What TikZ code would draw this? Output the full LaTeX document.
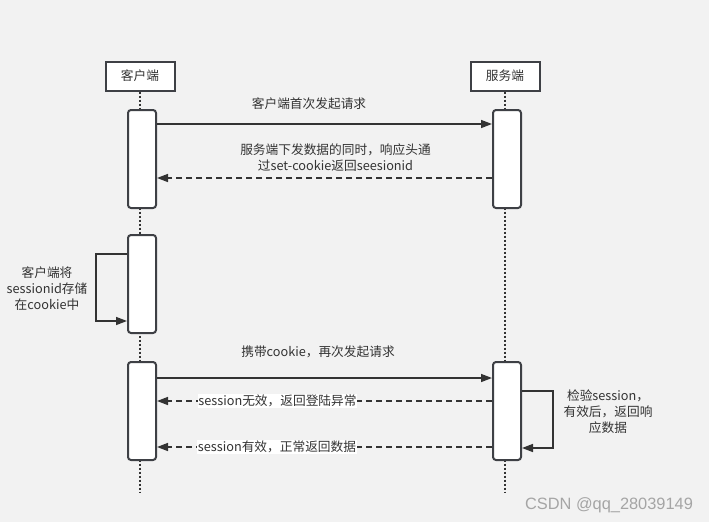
\documentclass[tikz,border=0pt]{standalone}
\usepackage{fontspec}
\setmainfont{Noto Sans CJK SC}
\newfontfamily\wmfont{Liberation Sans}
\usetikzlibrary{arrows.meta}
\definecolor{bggray}{RGB}{242,242,242}
\definecolor{ink}{RGB}{51,51,51}
\definecolor{edgegray}{RGB}{62,64,69}
\definecolor{wmgray}{RGB}{165,165,165}

\begin{document}
\begin{tikzpicture}[x=1pt,y=-1pt,
  actor/.style={draw=edgegray, line width=2pt, fill=white, minimum width=69pt, minimum height=29pt, inner sep=0pt, text=ink, font=\fontsize{12.7}{16}\selectfont},
  act/.style={draw=edgegray, line width=2pt, fill=white, rounded corners=3pt, minimum width=28pt, minimum height=98pt, inner sep=0pt},
  life/.style={draw=ink, line width=2pt, dash pattern=on 2pt off 2pt},
  call/.style={draw=ink, line width=1.5pt, -{Triangle[length=11pt,width=8pt]}},
  ret/.style={call, dash pattern=on 6pt off 4pt},
  lab/.style={text=ink, align=center, inner sep=0.6pt, font=\fontsize{12.7}{16}\selectfont}]
\def\cx{140}
\def\sx{505}

%background
\fill[bggray] (0,0) rectangle (709,522);

%actors and lifelines
\node[actor] (client) at (\cx,76) {客户端};
\node[actor] (server) at (\sx,76) {服务端};
\coordinate (cend) at (\cx,492);
\coordinate (send) at (\sx,492);
\draw[life] (client.south) -- (cend);
\draw[life] (server.south) -- (send);

%activations
\node[act] (c1) at (\cx+2,159) {};
\node[act] (c2) at (\cx+2,284) {};
\node[act] (c3) at (\cx+2,411) {};
\node[act] (s1) at (\sx+2,159) {};
\node[act] (s2) at (\sx+2,411) {};

%message heights
\coordinate (y1) at (0,124);
\coordinate (y2) at (0,178);
\coordinate (y3) at (0,378);
\coordinate (y4) at (0,401);
\coordinate (y5) at (0,447);
\coordinate (q1) at (0,254);
\coordinate (q2) at (0,321);
\coordinate (r1) at (0,391);
\coordinate (r2) at (0,448);

%first request
\draw[call] (c1.east |- y1) -- (s1.west |- y1);
\node[lab] (t1) at (309,104) {客户端首次发起请求};
\draw[ret] (s1.west |- y2) -- (c1.east |- y2);
\node[lab] (t2) at (335.5,158) {服务端下发数据的同时，响应头通\\过set-cookie返回seesionid};

%client stores the id
\draw[call] (c2.west |- q1) -- ++(-31,0) |- (c2.west |- q2);
\node[lab] (t3) at (47,289) {客户端将\\sessionid存储\\在cookie中};

%second request
\draw[call] (c3.east |- y3) -- (s2.west |- y3);
\node[lab] (t4) at (318,352) {携带cookie，再次发起请求};
\draw[ret] (s2.west |- y4) -- (c3.east |- y4);
\node[lab, fill=white] (t5) at (277.5,401) {session无效，返回登陆异常};
\draw[ret] (s2.west |- y5) -- (c3.east |- y5);
\node[lab, fill=white] (t6) at (277,447) {session有效，正常返回数据};

%server checks
\draw[call] (s2.east |- r1) -- ++(31,0) |- (s2.east |- r2);
\node[lab] (t7) at (608,412) {检验session，\\有效后，返回响\\应数据};

\node[text=wmgray, inner sep=0pt, font=\wmfont\fontsize{16.4}{18}\selectfont] (wm) at (609,505) {CSDN @qq\_28039149};
\end{tikzpicture}
\end{document}
